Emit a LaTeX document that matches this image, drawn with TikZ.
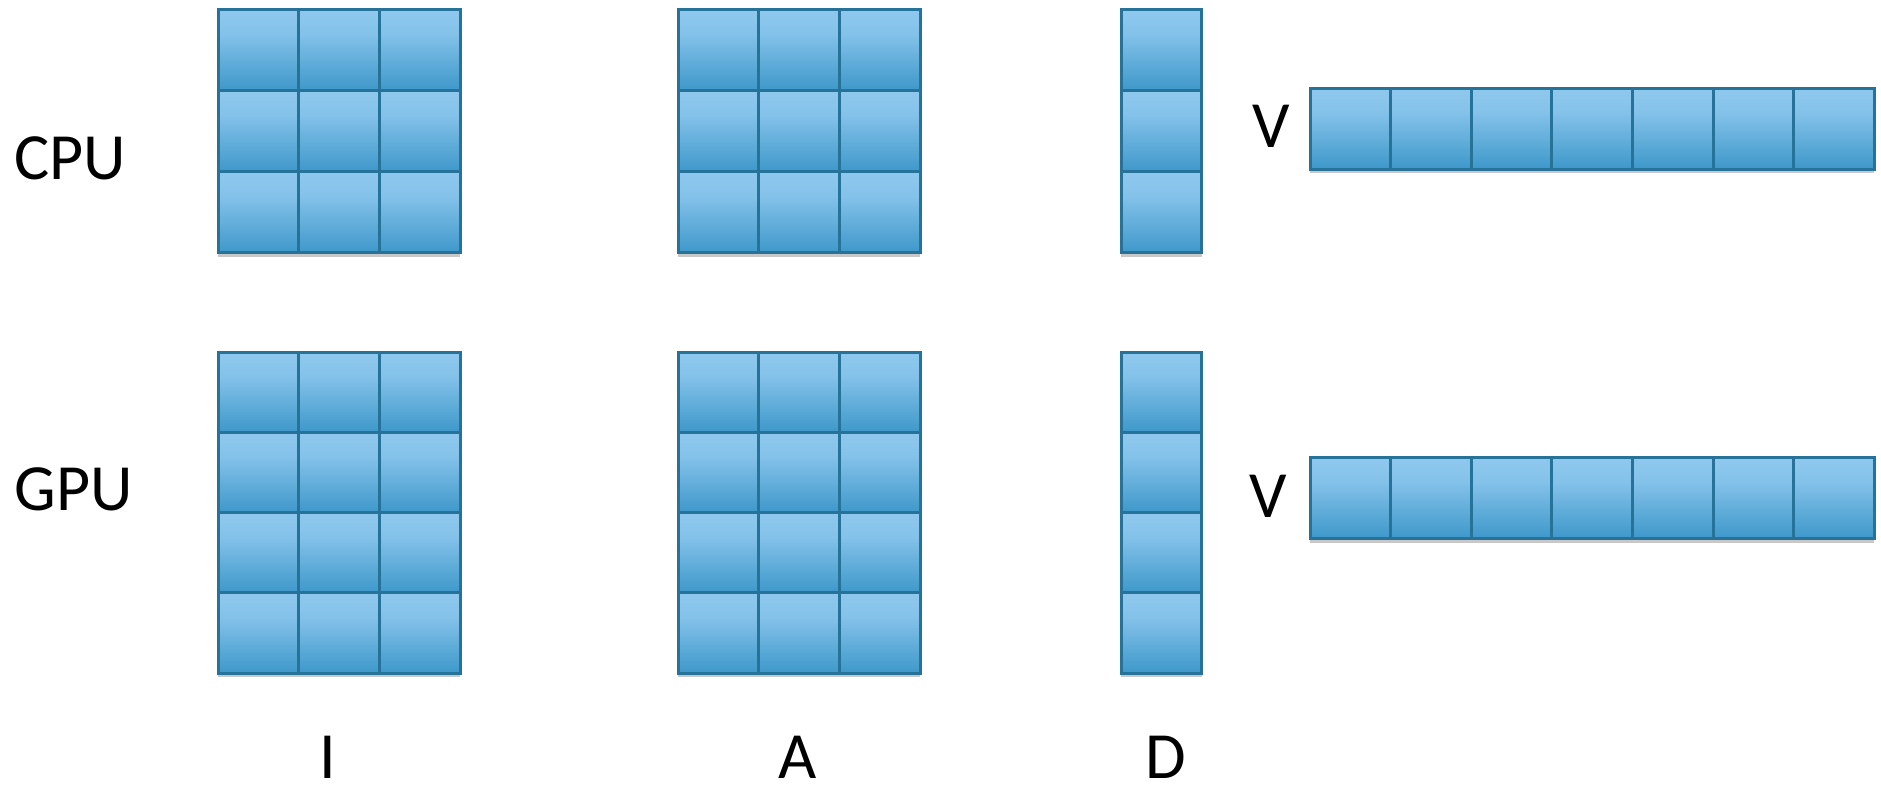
\documentclass[tikz,border=0pt]{standalone}
\usepackage{fontspec}
\setmainfont{Carlito}
\usetikzlibrary{shadows}
\definecolor{ctop}{RGB}{162,210,246}
\definecolor{cmid}{RGB}{132,194,234}
\definecolor{clow}{RGB}{62,152,202}
\definecolor{cbot}{RGB}{22,124,174}
\definecolor{cedge}{RGB}{38,114,152}
\pgfdeclareverticalshading{cellshade}{100bp}{color(0bp)=(cbot); color(4bp)=(cbot); color(25bp)=(clow); color(60bp)=(cmid); color(100bp)=(ctop)}
\tikzset{
  cell/.style={draw=cedge, line width=1.5pt, shade, shading=cellshade, inner sep=0pt, outer sep=0pt,
    drop shadow={shadow xshift=0pt, shadow yshift=-2pt, opacity=0.3, fill=black!70}},
  lbl/.style={font=\fontsize{33}{40}\selectfont, inner sep=0pt}
}
\newcommand\mgrid[7]{%
  \foreach \r in {1,...,#5}{\foreach \c in {1,...,#4}{%
    \node[cell, minimum width=#6*0.5pt, minimum height=#7*0.5pt, anchor=north west]
      (#1-\r-\c) at ({#2+(\c-1)*#6},{#3+(\r-1)*#7}) {};
  }}%
}
\begin{document}
\begin{tikzpicture}[x=0.5pt,y=-0.5pt]
\path[use as bounding box, fill=white] (0,0) rectangle (1881,789);
% CPU
\mgrid{ci}{218}{9}{3}{3}{80.8}{81.3}
\mgrid{ca}{678}{9}{3}{3}{80.8}{81.3}
\mgrid{cd}{1121}{9}{1}{3}{80.5}{81.3}
\mgrid{cv}{1310}{88}{7}{1}{80.6}{81}
% GPU
\mgrid{gi}{218}{352}{3}{4}{80.8}{80.3}
\mgrid{ga}{678}{352}{3}{4}{80.8}{80.3}
\mgrid{gd}{1121}{352}{1}{4}{80.5}{80.3}
\mgrid{gv}{1310}{457}{7}{1}{80.6}{81.5}
% labels
\node[lbl, anchor=base west] (cpu) at (14,179) {CPU};
\node[lbl, anchor=base west] (gpu) at (14,510) {GPU};
\node[lbl, anchor=base] (vc) at (1271,147) {V};
\node[lbl, anchor=base] (vg) at (1268,517) {V};
\node[lbl, anchor=base] (li) at (328,778) {I};
\node[lbl, anchor=base] (la) at (798,778) {A};
\node[lbl, anchor=base] (ld) at (1166,778) {D};
\end{tikzpicture}
\end{document}
